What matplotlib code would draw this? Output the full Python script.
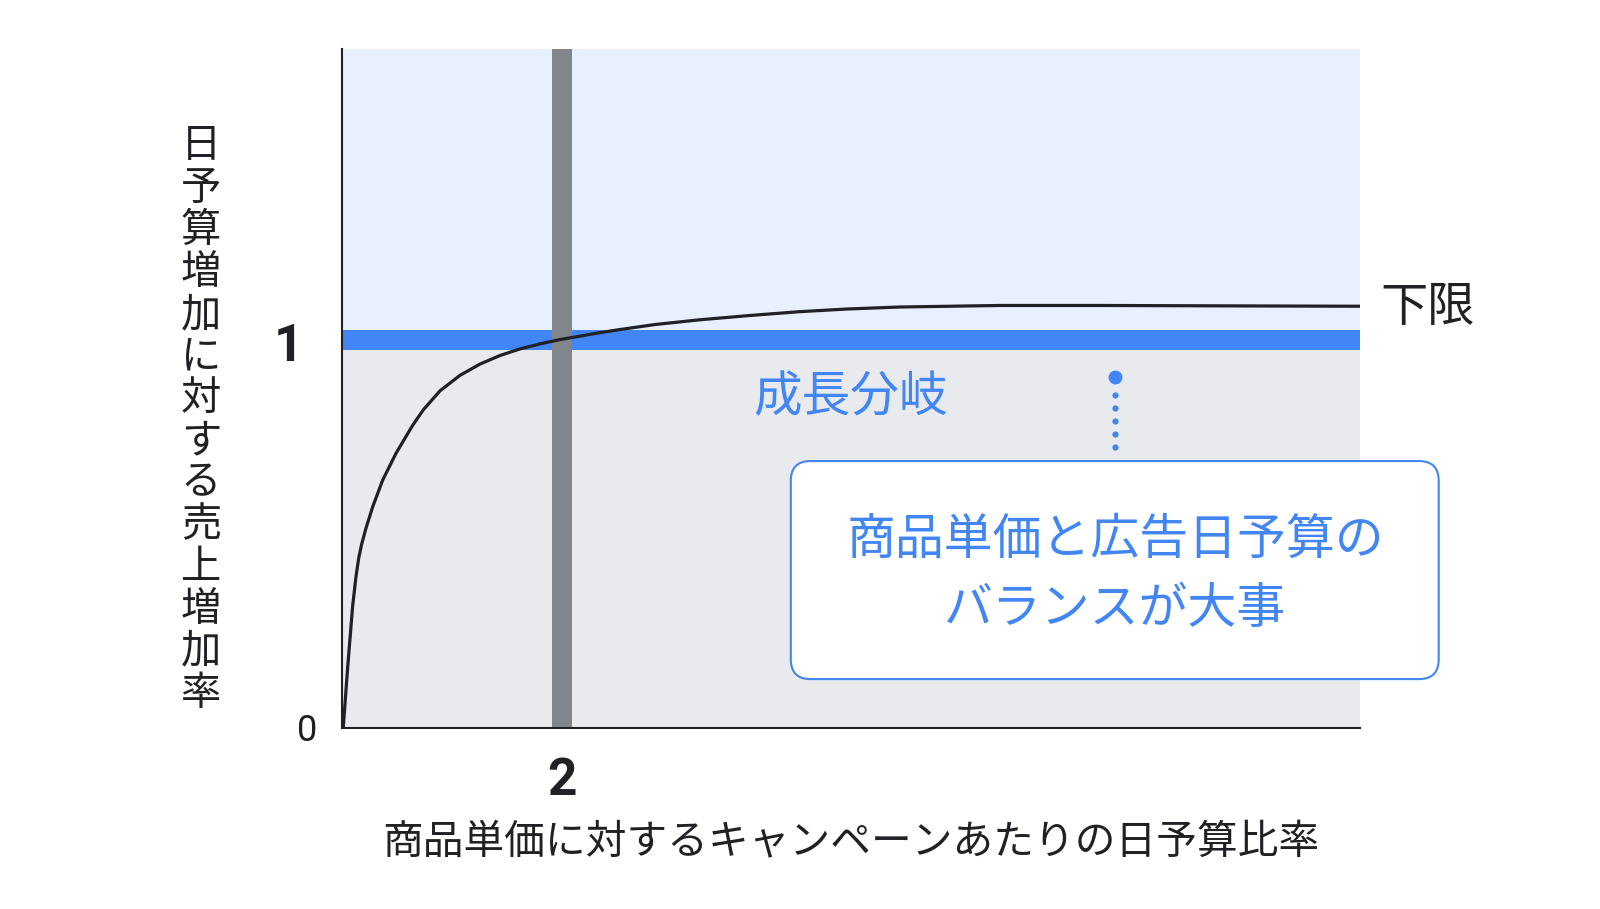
import matplotlib
matplotlib.use("Agg")
import matplotlib.pyplot as plt
from matplotlib.patches import FancyBboxPatch

plt.rcParams['font.family'] = ['Noto Sans CJK JP', 'DejaVu Sans']

# ---------------- data ----------------
curve_x = [0.0, 0.012, 0.052, 0.097, 0.127, 0.152, 0.179, 0.218, 0.279, 0.370, 0.491,
           0.642, 0.739, 0.891, 1.073, 1.255, 1.436, 1.618, 1.8, 1.98, 2.164, 2.345,
           2.527, 2.85, 3.25, 3.7, 4.16, 4.6, 5.07, 5.98, 6.89, 8.0, 9.25]
curve_y = [0.0, 0.003, 0.158, 0.315, 0.390, 0.438, 0.474, 0.515, 0.570, 0.639, 0.708,
           0.780, 0.820, 0.869, 0.909, 0.938, 0.960, 0.977, 0.990, 1.001, 1.010, 1.019,
           1.027, 1.040, 1.052, 1.063, 1.073, 1.080, 1.085, 1.089, 1.089, 1.088, 1.087]

threshold_y = 1.0          # 成長分岐 (blue line)
marker_x = 2.0             # gray vertical line
ytick_values = [0, 1]
ytick_labels = ["0", "1"]
xtick_values = [2]
xtick_labels = ["2"]

xlabel = "商品単価に対するキャンペーンあたりの日予算比率"
ylabel = "日予算増加に対する売上増加率"
curve_label = "下限"
threshold_label = "成長分岐"
box_lines = ["商品単価と広告日予算の", "バランスが大事"]

# annotation layout (data units)
note_x = 7.03
note_dot_y = 0.904
note_small_dots_y = [0.858, 0.824, 0.791, 0.758, 0.725]
box_x0, box_x1 = 4.08, 9.97
box_y0, box_y1 = 0.126, 0.688
box_text_y = [0.492, 0.314]
threshold_label_xy = (4.62, 0.862)

XMAX, YMAX = 9.2545, 1.75

# colors
BLUE = "#4285F4"
DARK = "#202124"
GRAY_BAR = "#80868B"
BG_ABOVE = "#E8F0FE"
BG_BELOW = "#E8EAED"

W, H = 1600, 909
fig = plt.figure(figsize=(W / 100, H / 100), dpi=100)
ax = fig.add_axes([342 / W, (H - 728) / H, 1018 / W, 679 / H])
ax.set_xlim(0, XMAX)
ax.set_ylim(0, YMAX)
ax.set_facecolor("white")

ax.axhspan(0, threshold_y, color=BG_BELOW, lw=0, zorder=0)
ax.axhspan(threshold_y, YMAX, color=BG_ABOVE, lw=0, zorder=0)
ax.axhspan(threshold_y - 0.026, threshold_y + 0.026, color=BLUE, lw=0, zorder=1)
ax.axvspan(marker_x - 0.09, marker_x + 0.09, color=GRAY_BAR, lw=0, zorder=2)

ax.plot(curve_x, curve_y, color=DARK, lw=2.3, zorder=4, solid_joinstyle='round')

for s in ["top", "right"]:
    ax.spines[s].set_visible(False)
for s in ["left", "bottom"]:
    ax.spines[s].set_color(DARK)
    ax.spines[s].set_linewidth(1.5)
    ax.spines[s].set_zorder(6)
ax.set_xticks([])
ax.set_yticks([])

ytr = ax.get_yaxis_transform()
xtr = ax.get_xaxis_transform()
DIG = ["Roboto", "DejaVu Sans"]


def label(text, xy, xycoords, dx, dy, **kw):
    return ax.annotate(text, xy=xy, xycoords=xycoords, xytext=(dx, dy),
                       textcoords="offset pixels", annotation_clip=False, **kw)


# tick labels
label(ytick_labels[0], (0, ytick_values[0]), ytr, -35, -3, ha="center", va="center",
      fontsize=26, family=DIG, color=DARK)
label(ytick_labels[1], (0, ytick_values[1]), ytr, -53.5, -7, ha="center", va="center",
      fontsize=37, fontweight="bold", family=DIG, color=DARK)
label(xtick_labels[0], (xtick_values[0], 0), xtr, 0, -53, ha="center", va="center",
      fontsize=37, fontweight="bold", family=DIG, color=DARK)

# axis labels
label(xlabel, (0.5, 0), ax.transAxes, 0, -115, ha="center", va="center",
      fontsize=29.3, color=DARK)
for i, ch in enumerate(ylabel):
    cy = 146 + i * 42.1
    fig.text(201 / W, 1 - cy / H, ch, ha="center", va="center", fontsize=29, color=DARK)

# curve label
label(curve_label, (curve_x[-1], curve_y[-1]), "data", 21, -2,
      ha="left", va="center", fontsize=34, color=DARK)

# threshold label
label(threshold_label, threshold_label_xy, "data", 0, -4, ha="center", va="center",
      fontsize=35, color=BLUE, zorder=5)

# dotted connector
ax.plot([note_x], [note_dot_y], "o", color=BLUE, ms=10, mew=0, zorder=5)
ax.plot([note_x] * len(note_small_dots_y), note_small_dots_y, "o", color=BLUE, ms=4.5,
        mew=0, zorder=5)

# callout box
box = FancyBboxPatch((box_x0, box_y0), box_x1 - box_x0, box_y1 - box_y0,
                     boxstyle="round,pad=0,rounding_size=0.18", mutation_aspect=110 / 388,
                     facecolor="white", edgecolor=BLUE, lw=1.5, zorder=7, clip_on=False)
ax.add_patch(box)
for line, ty in zip(box_lines, box_text_y):
    label(line, (note_x, ty), "data", 0, -3, ha="center", va="center", fontsize=35.2,
          color=BLUE, zorder=8)

fig.savefig("out.png", dpi=100, facecolor="white")
